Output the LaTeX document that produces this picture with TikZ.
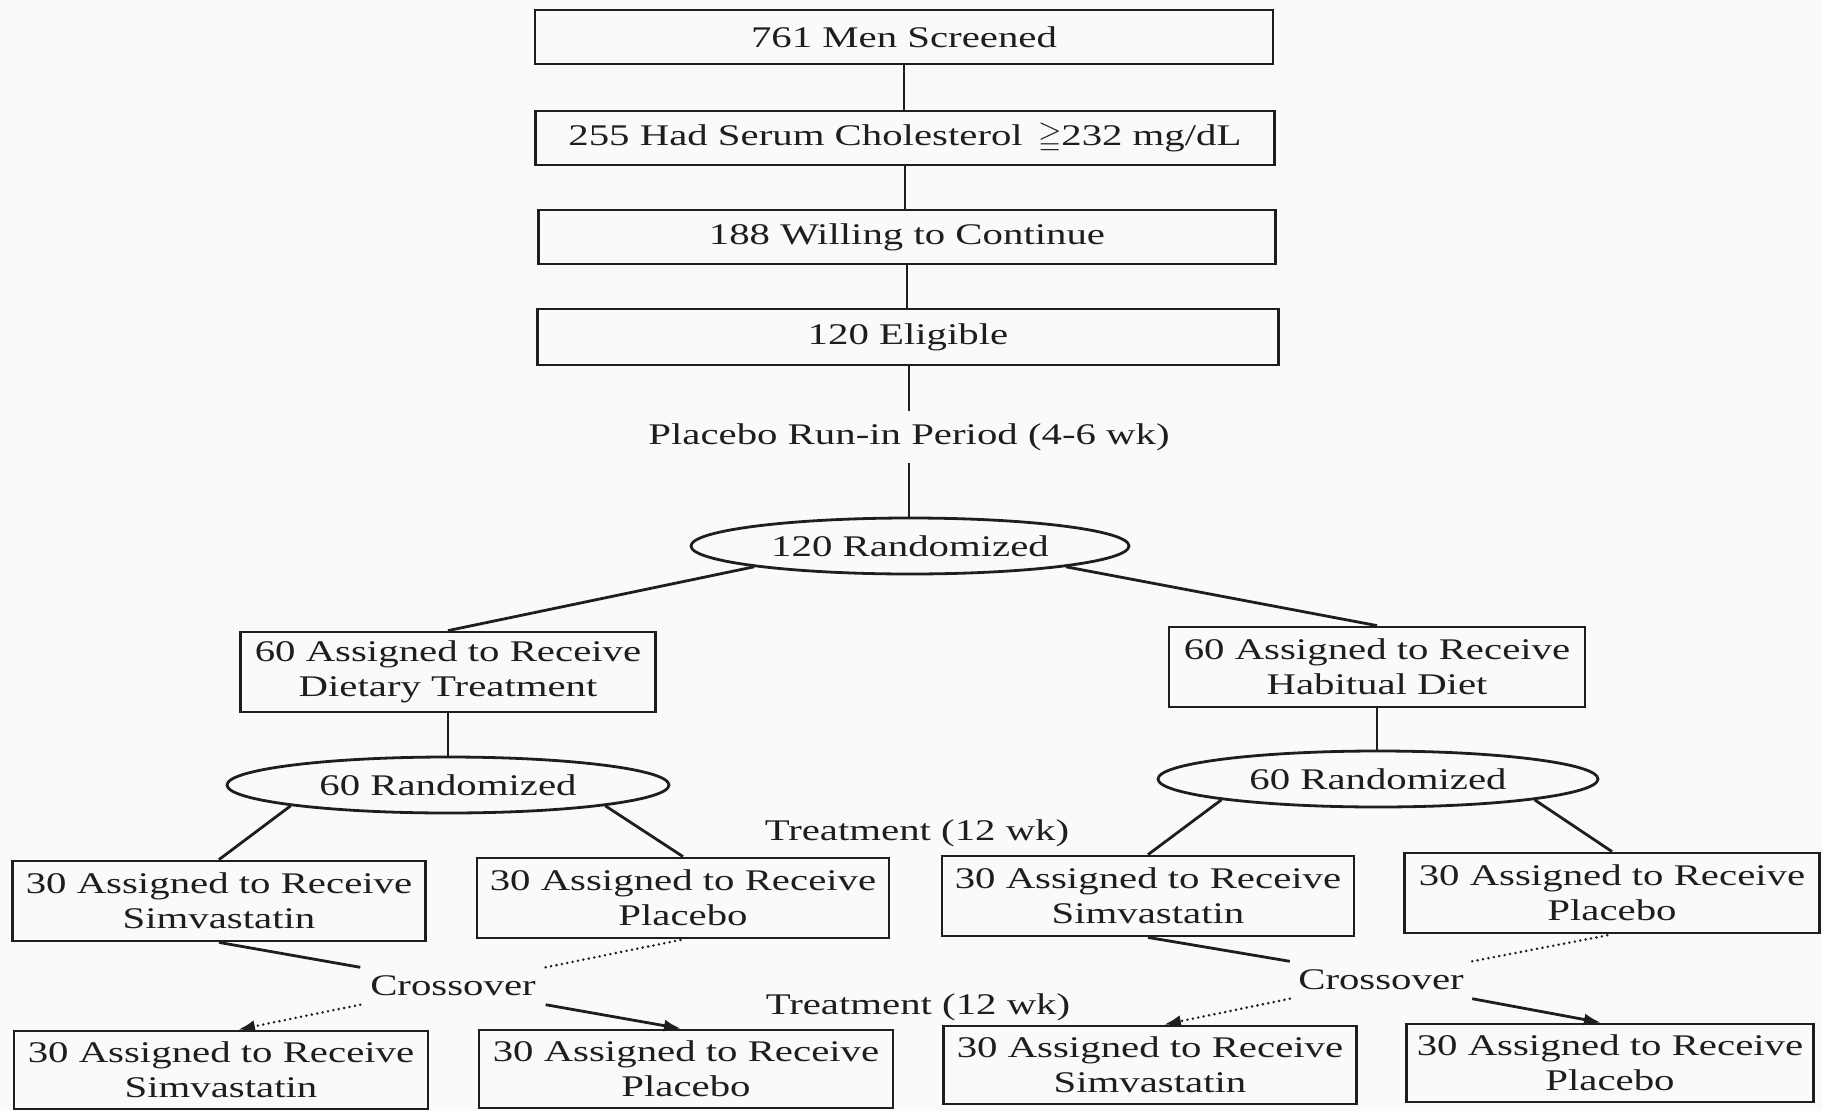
\documentclass[tikz,border=0pt]{standalone}
\usepackage{amssymb}
\usepackage{fontspec}
\setmainfont{Liberation Serif}[FakeStretch=1.36]
\usetikzlibrary{shapes.geometric,arrows.meta,calc}
\definecolor{ink}{HTML}{1E1E1E}
\tikzset{
  box/.style={draw=ink, text=ink, line width=2.8pt, rectangle, align=center, inner sep=0pt, minimum height=54pt},
  twobox/.style={box, minimum height=80pt},
  oval/.style={draw=ink, text=ink, ellipse, line width=2.8pt, inner sep=0pt, minimum height=56pt},
  lbl/.style={text=ink, inner sep=0pt},
  conn/.style={draw=ink, line width=2.8pt},
  dotline/.style={draw=ink, line width=2.8pt, line cap=round, dash pattern=on 0pt off 5.5pt},
  arr/.style={-{Latex[length=17pt,width=12pt]}},
}
\begin{document}
\begin{tikzpicture}[x=1pt, y=-1pt, font=\fontsize{30}{35}\selectfont]
\useasboundingbox[fill=black!2] (0,0) rectangle (1823,1111);

\node[box, minimum width=738pt] (b1) at (904,37) {761 Men Screened};
\node[box, minimum width=739pt] (b2) at (905,138) {255 Had Serum Cholesterol \,$\geqq$232 mg/dL};
\node[box, minimum width=737pt] (b3) at (907,237) {188 Willing to Continue};
\node[box, minimum width=741pt, minimum height=56pt] (b4) at (908,337) {120 Eligible};
\node[lbl, minimum height=52pt] (runin) at (909,437) {Placebo Run-in Period (4-6 wk)};
\node[oval, minimum width=438pt] (e1) at (910,546) {120 Randomized};

\node[twobox, minimum width=415pt] (b5) at (448,672) {60 Assigned to Receive\\Dietary Treatment};
\node[twobox, minimum width=416pt] (b6) at (1377,667) {60 Assigned to Receive\\Habitual Diet};

\node[oval, minimum width=442pt] (eL) at (448,785) {60 Randomized};
\node[oval, minimum width=440pt] (eR) at (1378,779) {60 Randomized};

\node[lbl] (t1) at (917,833) {Treatment (12 wk)};

\node[twobox, minimum width=413pt] (b7) at (219,901) {30 Assigned to Receive\\Simvastatin};
\node[twobox, minimum width=412pt] (b8) at (683,898) {30 Assigned to Receive\\Placebo};
\node[twobox, minimum width=412pt] (b9) at (1148,896) {30 Assigned to Receive\\Simvastatin};
\node[twobox, minimum width=415pt] (b10) at (1612,893) {30 Assigned to Receive\\Placebo};

\node[lbl, minimum width=185pt, minimum height=37pt] (cL) at (453,986) {Crossover};
\node[lbl, minimum width=182pt, minimum height=37pt] (cR) at (1381,980) {Crossover};

\node[lbl] (t2) at (918,1007) {Treatment (12 wk)};

\node[twobox, minimum width=414pt, minimum height=78pt] (b11) at (221,1070) {30 Assigned to Receive\\Simvastatin};
\node[twobox, minimum width=414pt, minimum height=78pt] (b12) at (686,1069) {30 Assigned to Receive\\Placebo};
\node[twobox, minimum width=413pt, minimum height=78pt] (b13) at (1150,1065) {30 Assigned to Receive\\Simvastatin};
\node[twobox, minimum width=407pt, minimum height=78pt] (b14) at (1610,1063) {30 Assigned to Receive\\Placebo};

% vertical chain
\draw[conn] (b1.south) -- (b1.south |- b2.north);
\draw[conn] (b2.south) -- (b2.south |- b3.north);
\draw[conn] (b3.south) -- (b3.south |- b4.north);
\draw[conn] (b4.south -| runin.north) -- (runin.north);
\draw[conn] (runin.south) -- (runin.south |- e1.north);

% first randomization
\draw[conn] (e1.south west) -- (b5.north);
\draw[conn] (e1.south east) -- (b6.north);
\draw[conn] (b5.south) -- (b5.south |- eL.north);
\draw[conn] (b6.south) -- (b6.south |- eR.north);

% second randomizations
\draw[conn] (eL.south west) -- (b7.north);
\draw[conn] (eL.south east) -- (b8.north);
\draw[conn] (eR.south west) -- (b9.north);
\draw[conn] (eR.south east) -- (b10.north);

% crossover left
\draw[conn] (b7.south) -- (cL.north west);
\draw[dotline] (cL.north east) -- (b8.south);
\draw[dotline, arr] (cL.south west) -- ([xshift=17pt]b11.north);
\draw[conn, arr] (cL.south east) -- ([xshift=-5pt]b12.north);

% crossover right
\draw[conn] (b9.south) -- (cR.north west);
\draw[dotline] (cR.north east) -- (b10.south);
\draw[dotline, arr] (cR.south west) -- ([xshift=14pt]b13.north);
\draw[conn, arr] (cR.south east) -- ([xshift=-9pt]b14.north);
\end{tikzpicture}
\end{document}
